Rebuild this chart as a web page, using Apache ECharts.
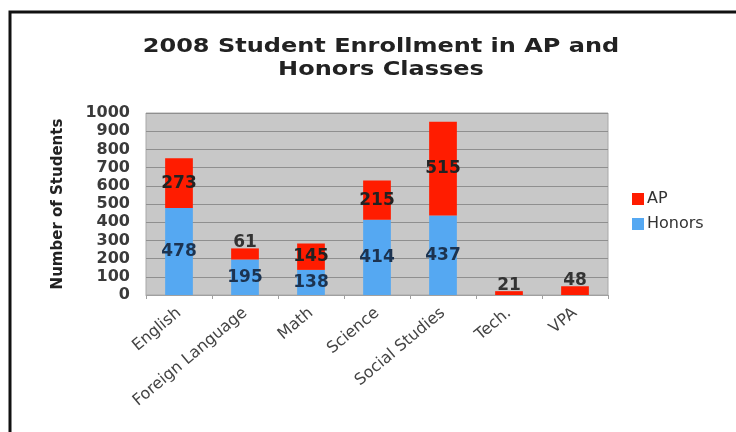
<!DOCTYPE html>
<html>
<head>
<meta charset="utf-8">
<script src="https://cdn.jsdelivr.net/npm/echarts@6/dist/echarts.min.js"></script>
<style>
  html, body { margin: 0; padding: 0; background: #ffffff; }
  #chart { width: 736px; height: 432px; }
</style>
</head>
<body>
<div id="chart"></div>
<script>
// 2008 enrollment by department
const categories = ['English', 'Foreign Language', 'Math', 'Science', 'Social Studies', 'Tech.', 'VPA'];
const honors = [478, 195, 138, 414, 437, 0, 0];
const ap = [273, 61, 145, 215, 515, 21, 48];
const yTicks = { min: 0, max: 1000, interval: 100 };
const titleLines = ['2008 Student Enrollment in AP and', 'Honors Classes'];

const font = 'DejaVu Sans';
const chart = echarts.init(document.getElementById('chart'), null, { renderer: 'canvas' });

// short segments carry their number just above the bar
function labelFor(v, color) {
  if (!v) return { show: false };
  return v < 100
    ? { show: true, position: 'top', distance: -3, color: '#333333' }
    : { show: true, position: 'inside', color: color };
}

chart.setOption({
  animation: false,
  backgroundColor: '#ffffff',
  legend: {
    orient: 'vertical', left: 627, top: 186, itemWidth: 12, itemHeight: 12, itemGap: 9,
    icon: 'rect',
    data: ['AP', 'Honors'],
    textStyle: { fontFamily: font, fontSize: 16, color: '#333333', padding: [0, 0, 0, -2] }
  },
  grid: { left: 146, right: 128, top: 113, bottom: 137, show: true, backgroundColor: '#c8c8c8', borderColor: '#a8a8a8', borderWidth: 1 },
  xAxis: {
    type: 'category', data: categories,
    axisLine: { lineStyle: { color: '#a0a0a0' } },
    axisTick: { show: true, length: 4, lineStyle: { color: '#a0a0a0' } },
    axisLabel: { rotate: 40, interval: 0, margin: 16, fontFamily: font, fontSize: 16, color: '#444444' }
  },
  yAxis: {
    type: 'value', min: yTicks.min, max: yTicks.max, interval: yTicks.interval,
    name: 'Number of Students', nameLocation: 'middle', nameGap: 80, nameRotate: 90,
    nameTextStyle: { fontFamily: font, fontSize: 15, fontWeight: 'bold', color: '#222222' },
    axisLine: { show: false }, axisTick: { show: false },
    axisLabel: { margin: 16, fontFamily: font, fontSize: 16, fontWeight: 'bold', color: '#3a3a3a', formatter: v => String(v) },
    splitLine: { lineStyle: { color: '#8f8f8f', width: 1 } }
  },
  series: [
    {
      name: 'Honors', type: 'bar', stack: 'total', barWidth: '42%',
      itemStyle: { color: '#55a8f2' },
      data: honors.map(v => ({ value: v, label: labelFor(v, '#1c3350') })),
      label: { fontFamily: font, fontSize: 17, fontWeight: 'bold' }
    },
    {
      name: 'AP', type: 'bar', stack: 'total', barWidth: '42%',
      itemStyle: { color: '#ff1c00' },
      data: ap.map(v => ({ value: v, label: labelFor(v, '#222222') })),
      label: { fontFamily: font, fontSize: 17, fontWeight: 'bold' }
    }
  ],
  graphic: [
    // title, widened a little
    {
      type: 'text', silent: true, x: 381, y: 35, scaleX: 1.2,
      style: {
        text: titleLines.join('\n'), align: 'center', verticalAlign: 'top',
        font: 'bold 20px "DejaVu Sans"', fill: '#222222', lineHeight: 23
      }
    },
    {
      type: 'rect', silent: true, z: 100,
      shape: { x: 10, y: 12, width: 740, height: 440 },
      style: { fill: 'none', stroke: '#111111', lineWidth: 3 }
    }
  ]
});
</script>
</body>
</html>
